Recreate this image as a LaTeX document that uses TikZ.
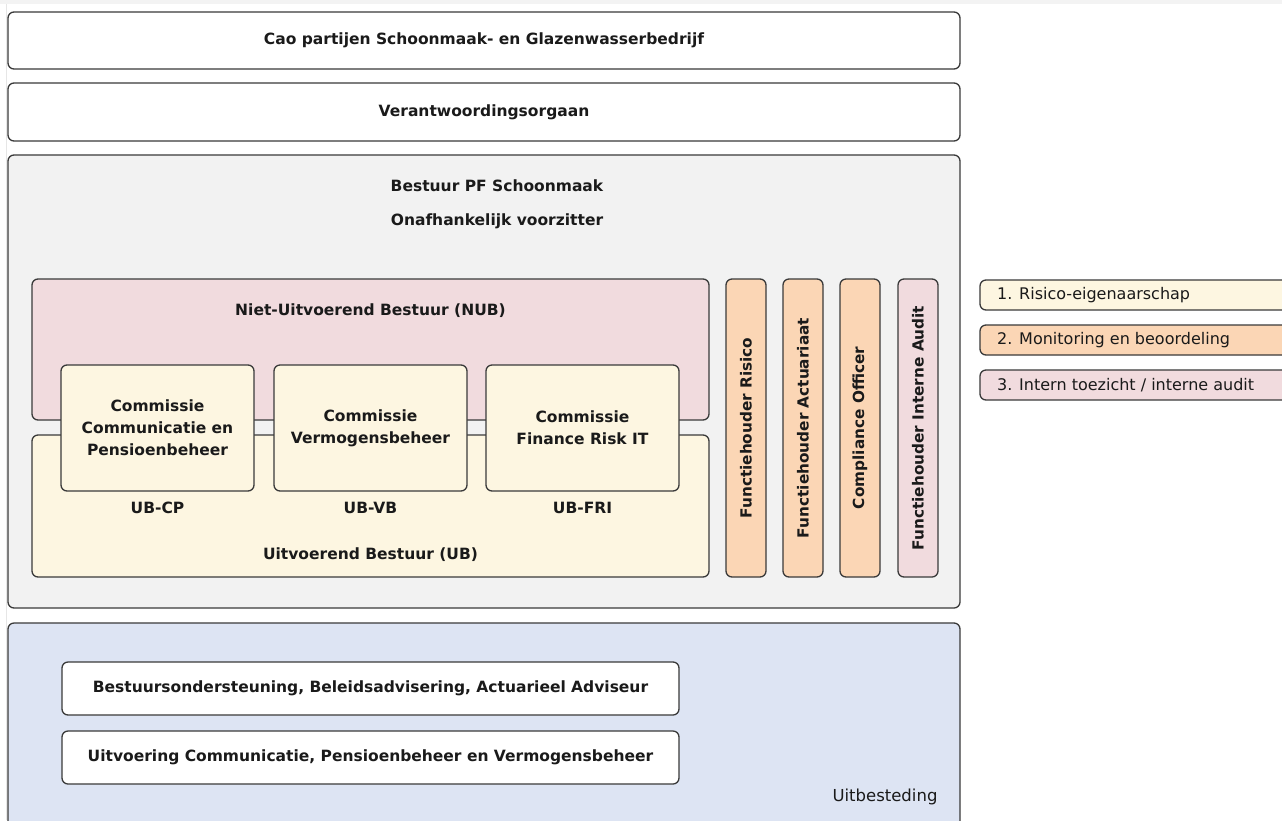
\documentclass[tikz,border=0pt]{standalone}
\usepackage{fontspec}
\setmainfont{DejaVu Sans}
\begin{document}
\begin{tikzpicture}[x=1pt,y=-1pt,
  box/.style={draw=boxline, line width=1.3pt, rounded corners=6pt, inner sep=0pt, text=textcol, align=center, font=\bfseries\fontsize{15.5}{22}\selectfont},
  lbl/.style={inner sep=0pt, text=textcol, align=center, font=\bfseries\fontsize{15.5}{22}\selectfont},
  leg/.style={draw=boxline, line width=1.3pt, rounded corners=6pt, inner sep=0pt, text=textcol},
  legt/.style={anchor=west, inner sep=0pt, text=textcol, font=\fontsize{16}{19}\selectfont},
  vbox/.style={draw=boxline, line width=1.3pt, rounded corners=6pt, inner sep=0pt, minimum width=40pt, minimum height=298pt},
  vlbl/.style={rotate=90, inner sep=0pt, text=textcol, font=\bfseries\fontsize{15.3}{18}\selectfont}
]
\definecolor{boxline}{HTML}{3A3A3A}
\definecolor{textcol}{HTML}{1A1A1A}
\definecolor{greyfill}{HTML}{F2F2F2}
\definecolor{pinkfill}{HTML}{F1DBDE}
\definecolor{creamfill}{HTML}{FDF6E1}
\definecolor{peachfill}{HTML}{FBD6B5}
\definecolor{bluefill}{HTML}{DDE4F3}
\definecolor{framecol}{HTML}{E6E6E6}
\clip (0,0) rectangle (1282,820);
\fill[white] (0,0) rectangle (1282,820);
\fill[framecol!50] (0,0) rectangle (1282,4);
\draw[framecol, line width=1pt] (6,4) -- (6,820);

% top boxes
\node[box, fill=white, minimum width=952pt, minimum height=57pt] (cao) at (484,40.5) {Cao partijen Schoonmaak- en Glazenwasserbedrijf};
\node[box, fill=white, minimum width=952pt, minimum height=58pt] (vo) at (484,112) {Verantwoordingsorgaan};

% bestuur
\node[box, fill=greyfill, minimum width=952pt, minimum height=453pt] (bestuur) at (484,381.5) {};
\node[lbl] (bt1) at (497,186) {Bestuur PF Schoonmaak};
\node[lbl] (bt2) at (497,221) {Onafhankelijk voorzitter};

\node[box, fill=pinkfill, minimum width=677pt, minimum height=141pt] (nub) at (370.5,349.5) {};
\node[lbl] (nubt) at (370.5,311) {Niet-Uitvoerend Bestuur (NUB)};
\node[box, fill=creamfill, minimum width=677pt, minimum height=142pt] (ub) at (370.5,506) {};
\node[lbl] (ubt) at (370.5,555) {Uitvoerend Bestuur (UB)};

\node[box, fill=creamfill, minimum width=193pt, minimum height=126pt] (cp) at (157.5,428) {Commissie\\Communicatie en\\Pensioenbeheer};
\node[box, fill=creamfill, minimum width=193pt, minimum height=126pt] (vb) at (370.5,428) {Commissie\\Vermogensbeheer};
\node[box, fill=creamfill, minimum width=193pt, minimum height=126pt] (fri) at (582.5,428) {Commissie\\Finance Risk IT};
\node[lbl] (cpl) at (157.5,508) {UB-CP};
\node[lbl] (vbl) at (370.5,508) {UB-VB};
\node[lbl] (fril) at (582.5,508) {UB-FRI};

\node[vbox, fill=peachfill] (fr) at (746,428) {};
\node[vlbl] (frt) at (746,428) {Functiehouder Risico};
\node[vbox, fill=peachfill] (fa) at (803,428) {};
\node[vlbl] (fat) at (803,428) {Functiehouder Actuariaat};
\node[vbox, fill=peachfill] (co) at (860,428) {};
\node[vlbl] (cot) at (860,428) {Compliance Officer};
\node[vbox, fill=pinkfill] (fi) at (918,428) {};
\node[vlbl] (fit) at (918,428) {Functiehouder Interne Audit};

% legend
\node[leg, fill=creamfill, minimum width=320pt, minimum height=30pt] (l1) at (1140,295) {};
\node[legt] (l1t) at (997,295) {1. Risico-eigenaarschap};
\node[leg, fill=peachfill, minimum width=320pt, minimum height=30pt] (l2) at (1140,340) {};
\node[legt] (l2t) at (997,340) {2. Monitoring en beoordeling};
\node[leg, fill=pinkfill, minimum width=320pt, minimum height=30pt] (l3) at (1140,385) {};
\node[legt] (l3t) at (997,385) {3. Intern toezicht / interne audit};

% uitbesteding
\node[box, fill=bluefill, minimum width=952pt, minimum height=207pt] (uit) at (484,726.5) {};
\node[box, fill=white, minimum width=617pt, minimum height=53pt] (b1) at (370.5,688.5) {Bestuursondersteuning, Beleidsadvisering, Actuarieel Adviseur};
\node[box, fill=white, minimum width=617pt, minimum height=53pt] (b2) at (370.5,757.5) {Uitvoering Communicatie, Pensioenbeheer en Vermogensbeheer};
\node[inner sep=0pt, text=textcol, font=\fontsize{16.5}{19}\selectfont] (uitt) at (885,797) {Uitbesteding};
\end{tikzpicture}
\end{document}
